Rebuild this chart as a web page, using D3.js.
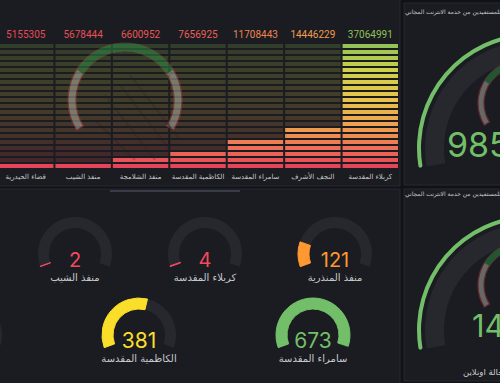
<!DOCTYPE html>
<meta charset="utf-8">
<style>
    body { margin: 0; background: #111217; }
    svg { display: block; }
    .ar { font-family: "DejaVu Sans", sans-serif; }
    .num { font-family: Roboto, Inter, sans-serif; }
    .big { font-family: Inter, Roboto, sans-serif; }
</style>
<script src="https://d3js.org/d3.v7.min.js"></script>

<div id="dash"></div>

<script>
// bar gauge, top left
var barNames = ["قضاء الحيدرية", "منفذ الشيب", "منفذ الشلامجة", "الكاظمية المقدسة", "سامراء المقدسة", "النجف الأشرف", "كربلاء المقدسة"];
var barValues = [5155305, 5678444, 6600952, 7656925, 11708443, 14446229, 37064991];

// small gauges, bottom left (two rows)
var row1Names = ["منفذ الشيب", "كربلاء المقدسة", "منفذ المنذرية"];
var row1Values = [2, 4, 121];
var row2Names = ["", "الكاظمية المقدسة", "سامراء المقدسة"];
var row2Values = [null, 381, 673];
var gaugeMax = 680;
var thresholdSteps = [0, 100, 300, 500];
var thresholdColors = ["#f2495c", "#ff9830", "#fade2a", "#73bf69"];

// big gauges, right side
var bigTitle = "العدد الكلي للمستفيدين من خدمة الانترنت المجاني";
var bigValues = ["98512", "1432"];
var bigLabels = ["", "عدد المستفيدين بحالة اونلاين"];

var W = 500, H = 383;
var svg = d3.select("#dash").append("svg").attr("width", W).attr("height", H);
var deg = Math.PI / 180;

// panels
var panels = [[-5, -5, 405, 191], [-5, 189, 405, 200], [404, 3, 110, 182], [404, 189, 110, 192]];
svg.selectAll("rect.panel").data(panels).join("rect")
    .attr("class", "panel")
    .attr("x", d => d[0]).attr("y", d => d[1])
    .attr("width", d => d[2]).attr("height", d => d[3])
    .attr("fill", "#1a1c21").attr("stroke", "#26282e");

function drawLogo(g, cx, cy, r, w) {
    var lg = g.append("g").attr("transform", `translate(${cx},${cy})`).attr("opacity", 0.45);
    var ring = d3.arc().innerRadius(r - w).outerRadius(r);
    lg.append("path").attr("d", ring({startAngle: -122 * deg, endAngle: 122 * deg}))
        .attr("fill", "#c4c4b8").attr("stroke", "#c0393b").attr("stroke-width", 1.2);
    lg.append("path").attr("d", ring({startAngle: -58 * deg, endAngle: 58 * deg}))
        .attr("fill", "#2f9a4a");
    // faint drawing inside the emblem
    var k = r / 57;
    [[-20, -5, 30, 60], [-5, -15, 45, 50], [5, -25, 55, 40], [-30, 20, 10, 60]].forEach(function(l) {
        lg.append("line").attr("x1", l[0] * k).attr("y1", l[1] * k).attr("x2", l[2] * k).attr("y2", l[3] * k)
            .attr("stroke", "#202020").attr("stroke-width", 2 * k).attr("opacity", 0.5);
    });
}

// ---------- bar gauge ----------
var x = d3.scaleBand().domain(barNames).range([-2, 398]).paddingInner(0.035);
var y = d3.scaleLinear().domain([4e6, 37.5e6]).range([168, 42]);
var colorY = d3.scaleLinear()
    .domain([168, 150, 130, 100, 70, 42])
    .range(["#e5405a", "#ee6a55", "#f09a50", "#e8c24a", "#cdd04a", "#8cc058"])
    .clamp(true);

var cellPitch = 6, cellH = 4, bottom = 168;
var cells = d3.range(21);
var bars = barNames.map((n, i) => ({name: n, value: barValues[i]}));

var barG = svg.append("g");
bars.forEach(function(b) {
    var vy = y(b.value);
    barG.append("g").selectAll("rect").data(cells).join("rect")
        .attr("x", x(b.name))
        .attr("width", x.bandwidth())
        .attr("y", k => bottom - k * cellPitch - cellH)
        .attr("height", cellH)
        .attr("fill", k => colorY(bottom - k * cellPitch - cellH / 2))
        .attr("opacity", k => (bottom - k * cellPitch - cellH / 2) >= vy - 1 ? 1 : 0.2);
});

barG.selectAll("text.val").data(bars).join("text")
    .attr("class", "num")
    .attr("x", d => x(d.name) + x.bandwidth() / 2)
    .attr("y", 38)
    .attr("text-anchor", "middle")
    .style("font-size", "10px")
    .attr("fill", d => colorY(y(d.value)))
    .text(d => d.value);

barG.selectAll("text.lab").data(bars).join("text")
    .attr("class", "ar")
    .attr("x", d => x(d.name) + x.bandwidth() / 2)
    .attr("y", 179)
    .attr("text-anchor", "middle")
    .style("font-size", "7px")
    .attr("fill", "#c8c9cc")
    .text(d => d.name);

drawLogo(svg, 125, 100, 57, 8);

// scrollbar bit
svg.append("line").attr("x1", 110).attr("x2", 240).attr("y1", 191).attr("y2", 191)
    .attr("stroke", "#383c48").attr("stroke-width", 2);

// ---------- small gauges ----------
var thr = d3.scaleThreshold().domain(thresholdSteps.slice(1)).range(thresholdColors);
var ang = d3.scaleLinear().domain([0, gaugeMax]).range([-110 * deg, 110 * deg]).clamp(true);
var gArc = d3.arc().innerRadius(26).outerRadius(37);

function gaugeRow(names, values, xs, cy, fs) {
    names.forEach(function(n, i) {
        var cx = xs(i);
        var g = svg.append("g").attr("transform", `translate(${cx},${cy})`);
        g.append("path").attr("d", gArc({startAngle: ang.range()[0], endAngle: ang.range()[1]}))
            .attr("fill", "#26282e");
        var v = values[i];
        if (v == null) return;
        var c = thr(v);
        g.append("path").attr("d", gArc({startAngle: ang(0), endAngle: ang(v)}))
            .attr("fill", c).attr("stroke", c).attr("stroke-width", 1);
        g.append("text").attr("class", "big")
            .attr("y", 13).attr("text-anchor", "middle")
            .style("font-size", fs + "px").attr("fill", c).text(v);
        g.append("text").attr("class", "ar")
            .attr("y", 27).attr("text-anchor", "middle")
            .style("font-size", "10px").attr("fill", "#c8c9cc").text(n);
    });
}
gaugeRow(row1Names, row1Values, d3.scaleLinear().domain([0, 1]).range([75, 205]), 254, 20);
gaugeRow(row2Names, row2Values, d3.scaleLinear().domain([0, 1]).range([-35, 139]), 335, 21);

// ---------- big gauges ----------
svg.append("defs").selectAll("clipPath").data([0, 1]).join("clipPath")
    .attr("id", d => "clipR" + d)
    .append("rect")
    .attr("x", 404).attr("width", 110)
    .attr("y", d => panels[2 + d][1]).attr("height", d => panels[2 + d][3]);

var bigCy = d3.scaleLinear().domain([0, 1]).range([148, 330]);
var bigFs = [34, 31];
[0, 1].forEach(function(i) {
    var g = svg.append("g").attr("clip-path", `url(#clipR${i})`);
    var cy = bigCy(i), cx = 532;
    g.append("text").attr("class", "ar")
        .attr("x", 405).attr("y", bigCy(i) - 134)
        .style("font-size", "6px").attr("fill", "#c8c9cc").text(bigTitle);
    var gg = g.append("g").attr("transform", `translate(${cx},${cy})`);
    gg.append("path")
        .attr("d", d3.arc().innerRadius(88).outerRadius(107)({startAngle: -100 * deg, endAngle: 100 * deg}))
        .attr("fill", "#26282e");
    gg.append("path")
        .attr("d", d3.arc().innerRadius(111).outerRadius(115).cornerRadius(2)({startAngle: -100 * deg, endAngle: 100 * deg}))
        .attr("fill", "#73bf69");
    drawLogo(g, 520, cy - 45, 42, 6);
    g.append("text").attr("class", "big")
        .attr("x", i == 0 ? 447 : 472).attr("y", cy + (i == 0 ? 9 : 7))
        .style("font-size", bigFs[i] + "px").attr("fill", "#73bf69").text(bigValues[i]);
    g.append("text").attr("class", "ar")
        .attr("x", 463).attr("y", cy + 45)
        .style("font-size", "8.5px").attr("fill", "#c8c9cc").text(bigLabels[i]);
});
</script>
